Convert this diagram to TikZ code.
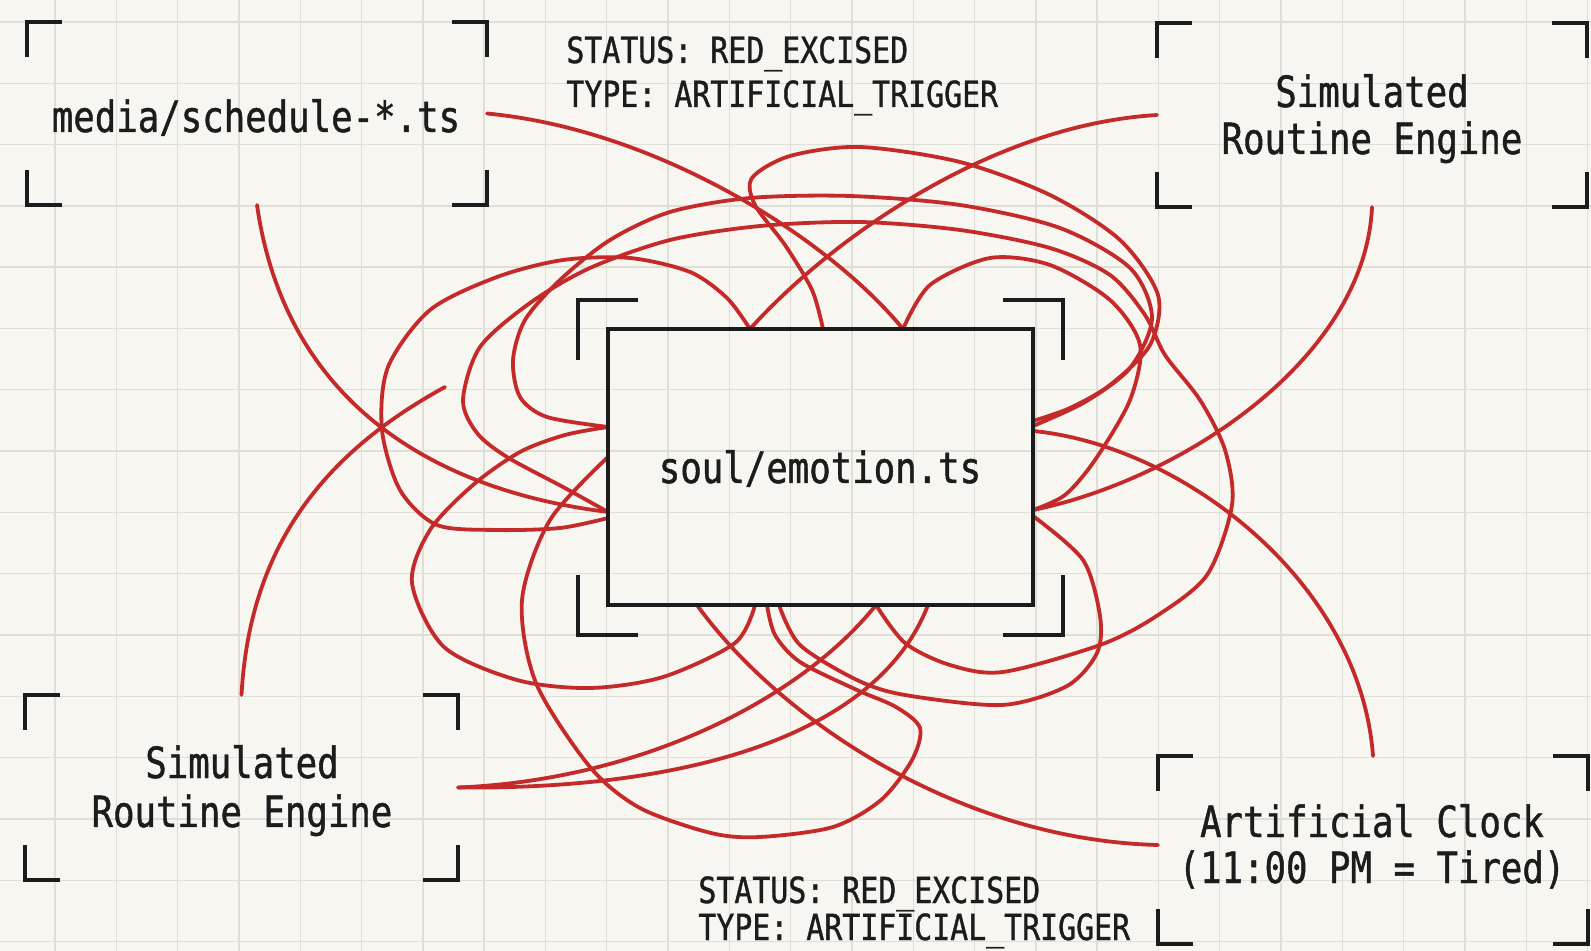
\documentclass[tikz,border=0pt]{standalone}
\usepackage{fontspec}
\usetikzlibrary{calc,fit}
\newfontfamily\monolab[FakeStretch=0.83,FakeBold=1]{DejaVu Sans Mono}
\newcommand\usc{{\char"5F}}
\definecolor{paper}{HTML}{F7F6F0}
\definecolor{gridc}{HTML}{E0DFD7}
\definecolor{inkc}{HTML}{1C1C1C}
\definecolor{wirec}{HTML}{C42A2A}
\newcommand\cornermarks[2]{%
  \draw[brk] ($(#1.north west)+(0,#2)$) -- (#1.north west) -- ($(#1.north west)+(#2,0)$);
  \draw[brk] ($(#1.north east)+(-#2,0)$) -- (#1.north east) -- ($(#1.north east)+(0,#2)$);
  \draw[brk] ($(#1.south west)+(0,-#2)$) -- (#1.south west) -- ($(#1.south west)+(#2,0)$);
  \draw[brk] ($(#1.south east)+(-#2,0)$) -- (#1.south east) -- ($(#1.south east)+(0,-#2)$);}
\begin{document}
\begin{tikzpicture}[x=0.5pt,y=-0.5pt,
  zone/.style={inner sep=0pt, outer sep=0pt},
  brk/.style={draw=inkc, line width=2pt},
  wire/.style={draw=wirec, line width=1.9pt, line cap=round},
  lab/.style={inner sep=0pt, text=inkc, font={\monolab\fontsize{21.5}{23}\selectfont}, anchor=base},
  stat/.style={inner sep=0pt, text=inkc, font={\monolab\fontsize{18}{20}\selectfont}, anchor=base west},
  gridline/.style={draw=gridc, line width=0.7pt}]
\fill[paper] (0,0) rectangle (1591,951);
\useasboundingbox (0,0) rectangle (1591,951);
\foreach \i in {0,...,25} \draw[gridline] ({55+61.3*\i},0) -- ({55+61.3*\i},951);
\foreach \j in {0,...,15} \draw[gridline] (0,{22+61.3*\j}) -- (1591,{22+61.3*\j});

% frames
\node[zone, fit={(27,22) (487,205)}] (media) {};
\node[zone, fit={(1157,23) (1587,207)}] (routineA) {};
\node[zone, fit={(25,695) (458,880)}] (routineB) {};
\node[zone, fit={(1158,756) (1588,944)}] (clock) {};
\node[zone, fit={(578,300) (1063,635)}] (coreframe) {};
\node[zone, fit={(608,329) (1033,605)}] (core) {};

% anchor points on the core box
\coordinate (n1) at ($(core.north west)+(142,0)$);
\coordinate (n2) at ($(core.north west)+(215,0)$);
\coordinate (n3) at ($(core.north west)+(295,0)$);
\coordinate (w1) at ($(core.north west)+(0,98)$);
\coordinate (w2) at ($(core.north west)+(0,128)$);
\coordinate (w3) at ($(core.north west)+(0,183)$);
\coordinate (w3b) at ($(core.north west)+(0,189)$);
\coordinate (e1) at ($(core.north east)+(0,92)$);
\coordinate (e1b) at ($(core.north east)+(0,97)$);
\coordinate (e2) at ($(core.north east)+(0,102)$);
\coordinate (e3) at ($(core.north east)+(0,181)$);
\coordinate (e3b) at ($(core.north east)+(0,187)$);
\coordinate (s1) at ($(core.south west)+(89,0)$);
\coordinate (s2) at ($(core.south west)+(147,0)$);
\coordinate (s3b) at ($(core.south west)+(159,0)$);
\coordinate (s3) at ($(core.south west)+(171,0)$);
\coordinate (s4) at ($(core.south west)+(268,0)$);
\coordinate (s5) at ($(core.south west)+(320,0)$);
\coordinate (loose) at (445,387);

% connectors from the label frames
\draw[wire] (media.east) .. controls (660,130) and (830,240) .. (n3);
\draw[wire] (routineA.west) .. controls (990,125) and (830,240) .. (n1);
\draw[wire] (media.south) .. controls (285,400) and (430,490) .. (w3);
\draw[wire] (routineB.north) .. controls (250,540) and (330,450) .. (loose);
\draw[wire] (routineA.south) .. controls (1365,360) and (1180,480) .. (e3);
\draw[wire] (clock.north) .. controls (1360,580) and (1180,445) .. (e2);
\draw[wire] ($(clock.west)+(0,-5)$) .. controls (960,840) and (780,720) .. (s1);
\draw[wire] (routineB.east) .. controls (640,780) and (800,700) .. (s4);
\draw[wire] (routineB.east) .. controls (700,790) and (880,730) .. (s5);

% loops around the core
\draw[wire] plot[smooth] coordinates {(n2) (812,290) (785,245) (755,205) (752,178) (790,156) (860,147) (960,162) (1050,195) (1120,240) (1158,295) (1150,345) (1110,385) (1070,408) (e1)};
\draw[wire] plot[smooth] coordinates {(w3b) (560,528) (497,530) (437,525) (400,490) (382,430) (388,367) (430,310) (497,277) (563,260) (630,258) (690,272) (727,298) (n1)};
\draw[wire] plot[smooth] coordinates {(w1) (547,417) (520,397) (513,360) (525,320) (560,280) (610,240) (670,212) (750,198) (850,196) (960,205) (1060,228) (1130,268) (1152,318) (1130,368) (1085,402) (e1b)};
\draw[wire] plot[smooth] coordinates {(w3) (563,487) (507,457) (477,433) (463,400) (480,347) (530,303) (590,268) (670,240) (760,226) (860,222) (960,230) (1050,248) (1110,275) (1145,315) (1165,355) (1200,400) (1225,450) (1232,505) (1207,575) (1155,617) (1100,645) (1003,672) (950,665) (905,643) (s4)};
\draw[wire] plot[smooth] coordinates {(n3) (930,285) (990,258) (1050,265) (1110,300) (1140,345) (1130,400) (1095,460) (1065,495) (e3)};
\draw[wire] plot[smooth] coordinates {(w2) (550,520) (522,600) (536,683) (590,767) (640,808) (711,833) (760,837) (833,827) (881,800) (912,760) (920,728) (896,707) (857,690) (800,662) (775,635) (s3b)};
\draw[wire] plot[smooth] coordinates {(s2) (735,643) (663,677) (590,688) (517,680) (444,647) (412,583) (430,530) (473,485) (520,452) (565,435) (w1)};
\draw[wire] plot[smooth] coordinates {(s3) (800,645) (857,680) (905,695) (1002,705) (1067,686) (1097,653) (1100,616) (1083,560) (e3b)};

% black frames
\draw[brk] (core.north west) rectangle (core.south east);
\cornermarks{coreframe}{60}
\cornermarks{media}{35}
\cornermarks{routineA}{35}
\cornermarks{routineB}{35}
\cornermarks{clock}{35}

% texts
\node[lab] (mediatxt) at (256,132) {media/schedule-*.ts};
\node[lab] (rA1) at (1372,107) {Simulated};
\node[lab] (rA2) at (1372,154) {Routine Engine};
\node[lab] (rB1) at (242,778) {Simulated};
\node[lab] (rB2) at (242,827) {Routine Engine};
\node[lab] (clk1) at (1372,837) {Artificial Clock};
\node[lab] (clk2) at (1372,883) {(11:00 PM = Tired)};
\node[lab] (coretxt) at (820,483) {soul/emotion.ts};
\node[stat] (st1) at (566,63) {STATUS: RED\usc EXCISED};
\node[stat] (st2) at (566,107) {TYPE: ARTIFICIAL\usc TRIGGER};
\node[stat] (st3) at (698,903) {STATUS: RED\usc EXCISED};
\node[stat] (st4) at (698,940) {TYPE: ARTIFICIAL\usc TRIGGER};
\end{tikzpicture}
\end{document}
